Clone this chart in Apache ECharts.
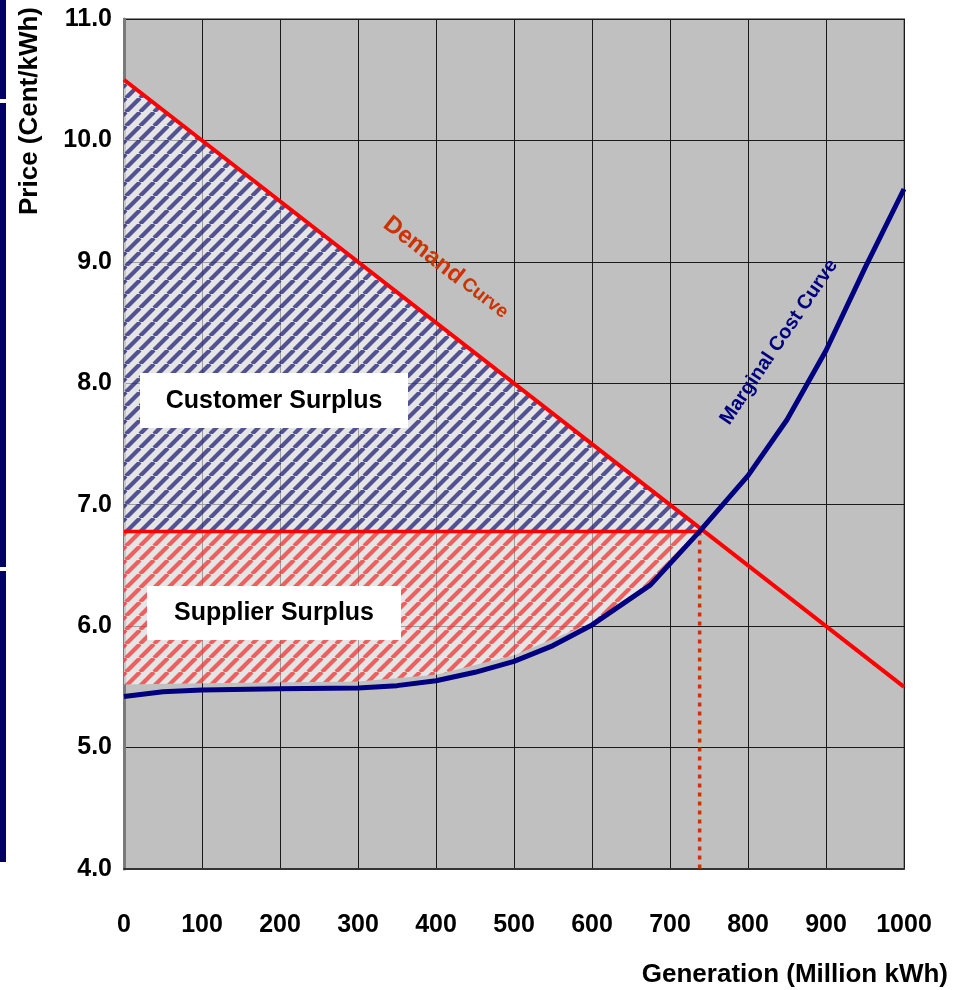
<!DOCTYPE html>
<html>
<head>
<meta charset="utf-8">
<script src="https://cdn.jsdelivr.net/npm/echarts@6/dist/echarts.min.js"></script>
<style>
  html, body { margin: 0; padding: 0; background: #ffffff; }
  #chart { width: 953px; height: 990px; }
</style>
</head>
<body>
<div id="chart"></div>
<script>
// Axis ticks
const xTicks = [0, 100, 200, 300, 400, 500, 600, 700, 800, 900, 1000];
const yTicks = [4, 5, 6, 7, 8, 9, 10, 11];

// Demand curve (straight line), price in Cent/kWh vs generation in Million kWh
const demandQ = [0, 1000];
const demandP = [10.5, 5.5];

// Marginal cost (supply) curve
const costQ = [0, 50, 100, 200, 300, 350, 400, 450, 500, 550, 600, 675, 738, 800, 850, 900, 950, 1000];
const costP = [5.42, 5.46, 5.475, 5.485, 5.49, 5.51, 5.55, 5.62, 5.71, 5.84, 6.01, 6.34, 6.78, 7.24, 7.7, 8.27, 8.95, 9.6];

// Market equilibrium
const equilibriumQ = 738;
const equilibriumP = 6.78;

// Lower edge of the supplier surplus region
const supplierFloorQ = [0, 100, 300, 400, 500, 600, 650, 700, 738];
const supplierFloorP = [5.52, 5.53, 5.545, 5.6, 5.76, 6.03, 6.24, 6.5, 6.78];

const zip = (a, b) => a.map((v, i) => [v, b[i]]);
const demandAt = q => demandP[0] + (demandP[1] - demandP[0]) * (q - demandQ[0]) / (demandQ[1] - demandQ[0]);

// Customer surplus: between the demand line and the equilibrium price
const customerPolygon = [
  [demandQ[0], demandP[0]],
  [equilibriumQ, demandAt(equilibriumQ)],
  [equilibriumQ, equilibriumP],
  [0, equilibriumP]
];
// Supplier surplus: below the equilibrium price, down to the floor edge
const supplierPolygon = [[0, equilibriumP], [equilibriumQ, equilibriumP]]
  .concat(zip(supplierFloorQ, supplierFloorP).reverse());

// Diagonal hatching tile
function stripes(color) {
  const s = 14;
  const c = document.createElement('canvas');
  c.width = s; c.height = s;
  const g = c.getContext('2d');
  g.fillStyle = 'rgba(255,255,255,0.58)';
  g.fillRect(0, 0, s, s);
  g.strokeStyle = color;
  g.lineWidth = 4.2;
  g.beginPath();
  [-s, 0, s].forEach(o => { g.moveTo(o, s); g.lineTo(o + s, 0); });
  g.stroke();
  return c;
}

function polygonSeries(points, pattern, z) {
  return {
    type: 'custom',
    coordinateSystem: 'cartesian2d',
    silent: true,
    z: z,
    data: [[0, 4]],
    renderItem: function (params, api) {
      return {
        type: 'polygon',
        shape: { points: points.map(p => api.coord(p)) },
        style: { fill: { image: pattern, repeat: 'repeat' } }
      };
    }
  };
}

const chart = echarts.init(document.getElementById('chart'), null, { renderer: 'canvas' });

const fontFamily = 'Liberation Sans, Arial, Helvetica, sans-serif';

chart.setOption({
  animation: false,
  backgroundColor: '#ffffff',
  grid: {
    left: 124, right: 49, top: 19, bottom: 121,
    show: true,
    backgroundColor: '#c0c0c0',
    borderColor: '#8c8c8c',
    borderWidth: 2
  },
  xAxis: {
    type: 'value',
    min: xTicks[0], max: xTicks[xTicks.length - 1], interval: 100,
    axisLine: { show: true, lineStyle: { color: '#333333', width: 2 } },
    axisTick: { show: false },
    splitLine: { show: true, lineStyle: { color: '#1a1a1a', width: 1 } },
    axisLabel: {
      margin: 44, fontSize: 25, fontWeight: 'bold', color: '#000000',
      fontFamily: fontFamily, formatter: v => String(v)
    }
  },
  yAxis: {
    type: 'value',
    min: yTicks[0], max: yTicks[yTicks.length - 1], interval: 1,
    axisLine: { show: true, lineStyle: { color: '#7a7a7a', width: 3 } },
    axisTick: { show: false },
    splitLine: { show: true, lineStyle: { color: '#1a1a1a', width: 1 } },
    axisLabel: {
      margin: 12, fontSize: 25, fontWeight: 'bold', color: '#000000',
      fontFamily: fontFamily, formatter: v => v.toFixed(1)
    }
  },
  series: [
    polygonSeries(customerPolygon, stripes('rgba(25,25,115,0.72)'), 2),
    polygonSeries(supplierPolygon, stripes('rgba(238,45,45,0.72)'), 2),
    {
      name: 'Demand Curve', type: 'line', z: 4, symbol: 'none', silent: true,
      data: zip(demandQ, demandP),
      lineStyle: { color: '#ff0000', width: 4 }
    },
    {
      name: 'Price', type: 'line', z: 4, symbol: 'none', silent: true,
      data: [[0, equilibriumP], [equilibriumQ, equilibriumP]],
      lineStyle: { color: '#ff0000', width: 3.5 }
    },
    {
      name: 'Quantity', type: 'line', z: 4, symbol: 'none', silent: true,
      data: [[equilibriumQ, equilibriumP], [equilibriumQ, yTicks[0]]],
      lineStyle: { color: '#cc3300', width: 3.5, type: [4, 5] }
    },
    {
      name: 'Marginal Cost Curve', type: 'line', z: 5, symbol: 'none', silent: true,
      data: zip(costQ, costP),
      lineStyle: { color: '#000080', width: 5 }
    }
  ],
  graphic: [
    // slide side bars
    { type: 'rect', shape: { x: 0, y: 0, width: 6, height: 99 }, style: { fill: '#000066' } },
    { type: 'rect', shape: { x: 0, y: 103, width: 6, height: 464 }, style: { fill: '#000066' } },
    { type: 'rect', shape: { x: 0, y: 571, width: 6, height: 291 }, style: { fill: '#000066' } },
    // axis titles
    {
      type: 'text', x: 30, y: 111, rotation: Math.PI / 2,
      style: { text: 'Price (Cent/kWh)', font: 'bold 26px ' + fontFamily, fill: '#000000', align: 'center', verticalAlign: 'middle' }
    },
    {
      type: 'text', x: 948, y: 975,
      style: { text: 'Generation (Million kWh)', font: 'bold 26px ' + fontFamily, fill: '#000000', align: 'right', verticalAlign: 'middle' }
    },
    // region labels
    { type: 'rect', z: 10, shape: { x: 140, y: 373, width: 268, height: 55 }, style: { fill: '#ffffff' } },
    {
      type: 'text', z: 11, x: 274, y: 401,
      style: { text: 'Customer Surplus', font: 'bold 25px ' + fontFamily, fill: '#000000', align: 'center', verticalAlign: 'middle' }
    },
    { type: 'rect', z: 10, shape: { x: 147, y: 586, width: 254, height: 54 }, style: { fill: '#ffffff' } },
    {
      type: 'text', z: 11, x: 274, y: 613,
      style: { text: 'Supplier Surplus', font: 'bold 25px ' + fontFamily, fill: '#000000', align: 'center', verticalAlign: 'middle' }
    },
    // curve labels
    {
      type: 'text', z: 11, x: 446, y: 268, rotation: -0.663,
      style: {
        text: '{a|Demand} {b|Curve}', align: 'center', verticalAlign: 'middle',
        rich: {
          a: { fontSize: 24, fontWeight: 'bold', fontFamily: fontFamily, fill: '#cc3300', color: '#cc3300' },
          b: { fontSize: 19, fontWeight: 'bold', fontFamily: fontFamily, fill: '#cc3300', color: '#cc3300' }
        }
      }
    },
    {
      type: 'text', z: 11, x: 779, y: 342, rotation: 0.977,
      style: { text: 'Marginal Cost Curve', font: 'bold 20px ' + fontFamily, fill: '#000080', align: 'center', verticalAlign: 'middle' }
    }
  ]
});
</script>
</body>
</html>
